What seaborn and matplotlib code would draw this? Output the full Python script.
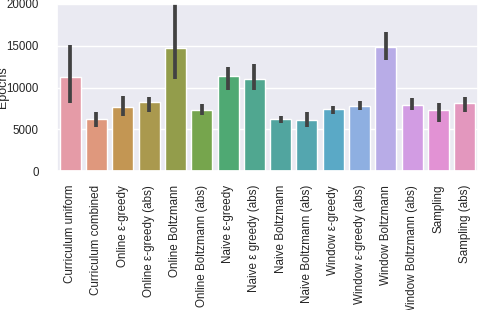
import numpy as np
import pandas as pd
import matplotlib
matplotlib.use("Agg")
import matplotlib.pyplot as plt
import seaborn as sns

# --- dados ---
metodos = [
    "Curriculum uniform", "Curriculum combined",
    "Online ε-greedy", "Online ε-greedy (abs)",
    "Online Boltzmann", "Online Boltzmann (abs)",
    "Naive ε-greedy", "Naive ε greedy (abs)",
    "Naive Boltzmann", "Naive Boltzmann (abs)",
    "Window ε-greedy", "Window ε-greedy (abs)",
    "Window Boltzmann", "Window Boltzmann (abs)",
    "Sampling", "Sampling (abs)",
]
epocas = [11200, 6190, 7620, 8210, 14760, 7260, 11430, 11070,
          6190, 6070, 7380, 7740, 14880, 7860, 7260, 8100]
ic_baixo = [8130, 5270, 6630, 7100, 10990, 6750, 9720, 9680,
            5750, 5270, 6860, 7340, 13250, 7300, 5870, 7060]
ic_alto = [15080, 7060, 8960, 8850, 21500, 8010, 12420, 12820,
           6630, 7100, 7820, 8410, 16670, 8690, 8180, 8890]

df = pd.DataFrame({"metodo": metodos, "epocas": epocas})

sns.set_theme(style="darkgrid")
plt.rcParams["font.family"] = ["Liberation Sans", "DejaVu Sans"]

fig = plt.figure(figsize=(4.78, 3.10), dpi=100)
ax = fig.add_axes([57 / 478, 1 - 171 / 310, 421 / 478, 167 / 310])

cores = sns.husl_palette(len(metodos), s=0.9, l=0.7)
sns.barplot(data=df, x="metodo", y="epocas", hue="metodo", palette=cores,
            saturation=0.66, errorbar=None, legend=False, width=0.8, ax=ax)

# barras de erro (intervalos de confiança)
ax.vlines(range(len(metodos)), ic_baixo, ic_alto, color=".26", lw=2.7)

ax.set_ylim(0, 20000)
ax.set_xlim(-0.5, len(metodos) - 0.5)
ax.set_yticks([0, 5000, 10000, 15000, 20000])
ax.set_xlabel("")
ax.set_ylabel("Epochs", fontsize=9)
ax.yaxis.set_label_coords(-0.113, 0.5)
ax.tick_params(axis="x", labelsize=8.4, pad=4)
ax.tick_params(axis="y", labelsize=8.3, pad=7)
plt.setp(ax.get_xticklabels(), rotation=90)

fig.savefig("out.png", dpi=100)
